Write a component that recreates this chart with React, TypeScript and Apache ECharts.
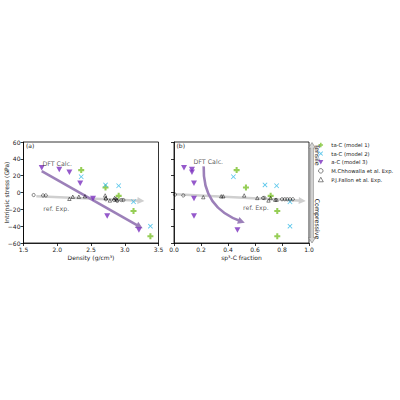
import React, { useEffect, useRef } from "react";
import * as echarts from "echarts";

// ta-C (model 1)
const densityTaC1 = [2.355, 2.715, 2.91, 3.13, 3.38];
const fractionTaC1 = [0.464, 0.533, 0.716, 0.765, 0.765];
const stressTaC1 = [26.6, 6, -4, -22, -52];

// ta-C (model 2)
const densityTaC2 = [2.355, 2.715, 2.91, 3.13, 3.38];
const fractionTaC2 = [0.44, 0.674, 0.76, 0.859, 0.859];
const stressTaC2 = [18.7, 9, 8, -11, -40];

// a-C (model 3)
const densityAC3 = [1.77, 2.03, 2.18, 2.34, 2.53, 2.74, 3.21];
const fractionAC3 = [0.074, 0.133, 0.133, 0.148, 0.148, 0.148, 0.47];
const stressAC3 = [29.5, 27.4, 24, 11, -7, -28, -44.5];

// M.Chhowalla et al. experiments
const densityChh = [1.65, 1.79, 1.83, 2.72, 2.84, 2.87, 2.89, 2.95, 2.98];
const stressChhA = [-3, -3.5, -3.5, -8, -9, -8, -10, -9, -9];
const fractionChh = [0.007, 0.069, 0.66, 0.67, 0.8, 0.82, 0.84, 0.86, 0.88];
const stressChhB = [-2.5, -3.5, -6.5, -6.5, -8, -8, -8, -8, -8];

// P.J.Fallon et al. experiments
const densityFal = [2.18, 2.23, 2.32, 2.41, 2.71, 2.72, 2.78, 2.85, 2.88];
const stressFalA = [-7.5, -5, -5, -4.5, -3.5, -6.5, -9.5, -6.5, -8.5];
const fractionFal = [0.217, 0.35, 0.365, 0.52, 0.617, 0.7, 0.716, 0.75, 0.76];
const stressFalB = [-5.5, -4.5, -4.5, -3.5, -6.5, -9.5, -6.5, -8.5, -8.5];

const densityTicks = { min: 1.5, max: 3.5, interval: 0.5 };
const fractionTicks = { min: 0, max: 1, interval: 0.2 };
const stressTicks = { min: -60, max: 60, interval: 20 };

const seriesNames = [
  "ta-C (model 1)",
  "ta-C (model 2)",
  "a-C (model 3)",
  "M.Chhowalla et al. Exp.",
  "P.J.Fallon et al. Exp.",
];

const FONT = "DejaVu Sans";
const GREEN = "#7cc22c";
const CYAN = "#2fb8e6";
const PURPLE = "#7a2fbe";
const ARROW_PURPLE = "#9c80b9";
const ARROW_GRAY = "#cfcfcf";

const plusSymbol = "path://M3.3,0 H6.7 V3.3 H10 V6.7 H6.7 V10 H3.3 V6.7 H0 V3.3 H3.3 Z";
const crossSymbol =
  "path://M1.2,0 L5,3.8 L8.8,0 L10,1.2 L6.2,5 L10,8.8 L8.8,10 L5,6.2 L1.2,10 L0,8.8 L3.8,5 L0,1.2 Z";
const downTriangle = "path://M0,0 L10,0 L5,9 Z";
const hollowStyle = { color: "#fff", borderColor: "#000", borderWidth: 0.6 };

const zip = (xs: number[], ys: number[]) => xs.map((x, i) => [x, ys[i]]);
const minus = (v: number) => String(v).replace("-", "\u2212");

function pointSeries(
  gi: number,
  xs: { tac1: number[]; tac2: number[]; ac3: number[]; chh: number[]; fal: number[] },
  ys: { chh: number[]; fal: number[] }
) {
  const base = { type: "scatter", xAxisIndex: gi, yAxisIndex: gi, silent: true, z: 4 };
  return [
    { ...base, name: seriesNames[0], symbol: plusSymbol, symbolSize: 6, itemStyle: { color: GREEN }, data: zip(xs.tac1, stressTaC1) },
    { ...base, name: seriesNames[1], symbol: crossSymbol, symbolSize: 5, itemStyle: { color: CYAN }, data: zip(xs.tac2, stressTaC2) },
    { ...base, name: seriesNames[2], symbol: downTriangle, symbolSize: [6, 5.5], itemStyle: { color: PURPLE }, data: zip(xs.ac3, stressAC3) },
    {
      ...base,
      name: seriesNames[3],
      symbol: "circle",
      symbolSize: 3.2,
      itemStyle: { color: "rgba(255,255,255,0)", borderColor: "#000", borderWidth: 0.6 },
      data: zip(xs.chh, ys.chh),
    },
    {
      ...base,
      name: seriesNames[4],
      symbol: "triangle",
      symbolSize: 3.4,
      itemStyle: { color: "rgba(255,255,255,0)", borderColor: "#000", borderWidth: 0.6 },
      data: zip(xs.fal, ys.fal),
    },
  ];
}

// Straight or curved annotation arrow, placed in data coordinates
function arrowSeries(gi: number, from: number[], to: number[], color: string, z: number, curveness = 0) {
  return {
    type: "lines",
    coordinateSystem: "cartesian2d",
    xAxisIndex: gi,
    yAxisIndex: gi,
    silent: true,
    z,
    symbol: ["none", "triangle"],
    symbolSize: [7.5, 7],
    lineStyle: { color, width: 2.6, opacity: 1, curveness },
    itemStyle: { color },
    data: [{ coords: [from, to] }],
  };
}

function textSeries(gi: number, texts: { coord: number[]; text: string }[]) {
  return {
    type: "scatter",
    xAxisIndex: gi,
    yAxisIndex: gi,
    silent: true,
    symbolSize: 0,
    z: 5,
    label: {
      show: true,
      position: "inside",
      color: "#333",
      fontFamily: FONT,
      fontSize: 6.3,
      formatter: (p: any) => texts[p.dataIndex].text,
    },
    data: texts.map((t) => t.coord),
  };
}

export default function App() {
  const ref = useRef<HTMLDivElement>(null);

  useEffect(() => {
    if (!ref.current) return;
    const chart = echarts.init(ref.current, undefined, { renderer: "svg" });

    const gridCommon = {
      top: 142,
      height: 101,
      width: 135,
      show: true,
      borderColor: "#000",
      borderWidth: 0.8,
      backgroundColor: "transparent",
      containLabel: false,
      outerBoundsMode: "none",
    };

    const axisCommon = {
      axisLine: { show: true, onZero: false, lineStyle: { color: "#000", width: 0.8 } },
      axisTick: { show: true, inside: false, length: 3, lineStyle: { color: "#000", width: 0.8 } },
      splitLine: { show: false },
      axisLabel: { color: "#222", fontFamily: FONT, fontSize: 6, margin: 3 },
      nameTextStyle: { color: "#222", fontFamily: FONT, fontSize: 6 },
      nameMoveOverlap: false,
    };

    const option = {
      animation: false,
      backgroundColor: "#fff",
      textStyle: { fontFamily: FONT },
      grid: [
        { ...gridCommon, left: 23.5 },
        { ...gridCommon, left: 174 },
      ],
      xAxis: [
        {
          ...axisCommon,
          gridIndex: 0,
          type: "value",
          ...densityTicks,
          name: "Density (g/cm\u00b3)",
          nameLocation: "middle",
          nameGap: 11,
          axisLabel: { ...axisCommon.axisLabel, formatter: (v: number) => v.toFixed(1) },
        },
        {
          ...axisCommon,
          gridIndex: 1,
          type: "value",
          ...fractionTicks,
          name: "sp\u00b3-C fraction",
          nameLocation: "middle",
          nameGap: 11,
          axisLabel: { ...axisCommon.axisLabel, formatter: (v: number) => v.toFixed(1) },
        },
      ],
      yAxis: [
        {
          ...axisCommon,
          gridIndex: 0,
          type: "value",
          ...stressTicks,
          name: "Intrinsic stress (GPa)",
          nameLocation: "middle",
          nameGap: 14,
          axisLabel: { ...axisCommon.axisLabel, formatter: (v: number) => minus(v) },
        },
        {
          ...axisCommon,
          gridIndex: 1,
          type: "value",
          ...stressTicks,
          axisLabel: { show: false },
        },
      ],
      legend: {
        data: [
          { name: seriesNames[0], icon: plusSymbol, itemStyle: { color: GREEN } },
          { name: seriesNames[1], icon: crossSymbol, itemStyle: { color: CYAN } },
          { name: seriesNames[2], icon: downTriangle, itemStyle: { color: PURPLE } },
          { name: seriesNames[3], icon: "circle", itemStyle: hollowStyle },
          { name: seriesNames[4], icon: "triangle", itemStyle: hollowStyle },
        ],
        orient: "vertical",
        left: 318,
        top: 142.5,
        padding: 0,
        itemWidth: 5,
        itemHeight: 4.5,
        itemGap: 3.6,
        selectedMode: false,
        textStyle: { color: "#222", fontFamily: FONT, fontSize: 5.3, padding: [0, 0, 0, 3] },
      },
      series: [
        arrowSeries(0, [1.69, -4.5], [3.24, -9.8], ARROW_GRAY, 2),
        arrowSeries(0, [1.77, 25.5], [3.22, -40.5], ARROW_PURPLE, 3),
        arrowSeries(1, [0.01, -2], [0.95, -9.8], ARROW_GRAY, 2),
        arrowSeries(1, [0.22, 31], [0.5, -34.5], ARROW_PURPLE, 3, -0.37),
        textSeries(0, [
          { coord: [2.0, 35], text: "DFT Calc." },
          { coord: [1.985, -19], text: "ref. Exp." },
        ]),
        textSeries(1, [
          { coord: [0.254, 37], text: "DFT Calc." },
          { coord: [0.607, -18], text: "ref. Exp." },
        ]),
        ...pointSeries(
          0,
          { tac1: densityTaC1, tac2: densityTaC2, ac3: densityAC3, chh: densityChh, fal: densityFal },
          { chh: stressChhA, fal: stressFalA }
        ),
        ...pointSeries(
          1,
          { tac1: fractionTaC1, tac2: fractionTaC2, ac3: fractionAC3, chh: fractionChh, fal: fractionFal },
          { chh: stressChhB, fal: stressFalB }
        ),
      ],
      graphic: [
        { type: "text", left: 26, top: 142.5, style: { text: "(a)", fontFamily: FONT, fontSize: 6, fill: "#222" } },
        { type: "text", left: 176.5, top: 142.5, style: { text: "(b)", fontFamily: FONT, fontSize: 6, fill: "#222" } },
        {
          type: "polygon",
          shape: {
            points: [
              [312, 142.5],
              [315.5, 148],
              [313.4, 148],
              [313.4, 237.5],
              [315.5, 237.5],
              [312, 243],
              [308.5, 237.5],
              [310.6, 237.5],
              [310.6, 148],
              [308.5, 148],
            ],
          },
          style: { fill: "#d6d6d6", stroke: "#666", lineWidth: 0.5 },
        },
        {
          type: "text",
          x: 317.5,
          y: 155,
          rotation: -Math.PI / 2,
          style: { text: "Tensile", fontFamily: FONT, fontSize: 6.3, fill: "#222", align: "center", verticalAlign: "middle" },
        },
        {
          type: "text",
          x: 317.5,
          y: 219,
          rotation: -Math.PI / 2,
          style: { text: "Compressive", fontFamily: FONT, fontSize: 6.3, fill: "#222", align: "center", verticalAlign: "middle" },
        },
      ],
    };

    chart.setOption(option as any);
    return () => chart.dispose();
  }, []);

  return <div ref={ref} style={{ position: "absolute", left: 0, top: 0, width: 400, height: 400 }} />;
}
